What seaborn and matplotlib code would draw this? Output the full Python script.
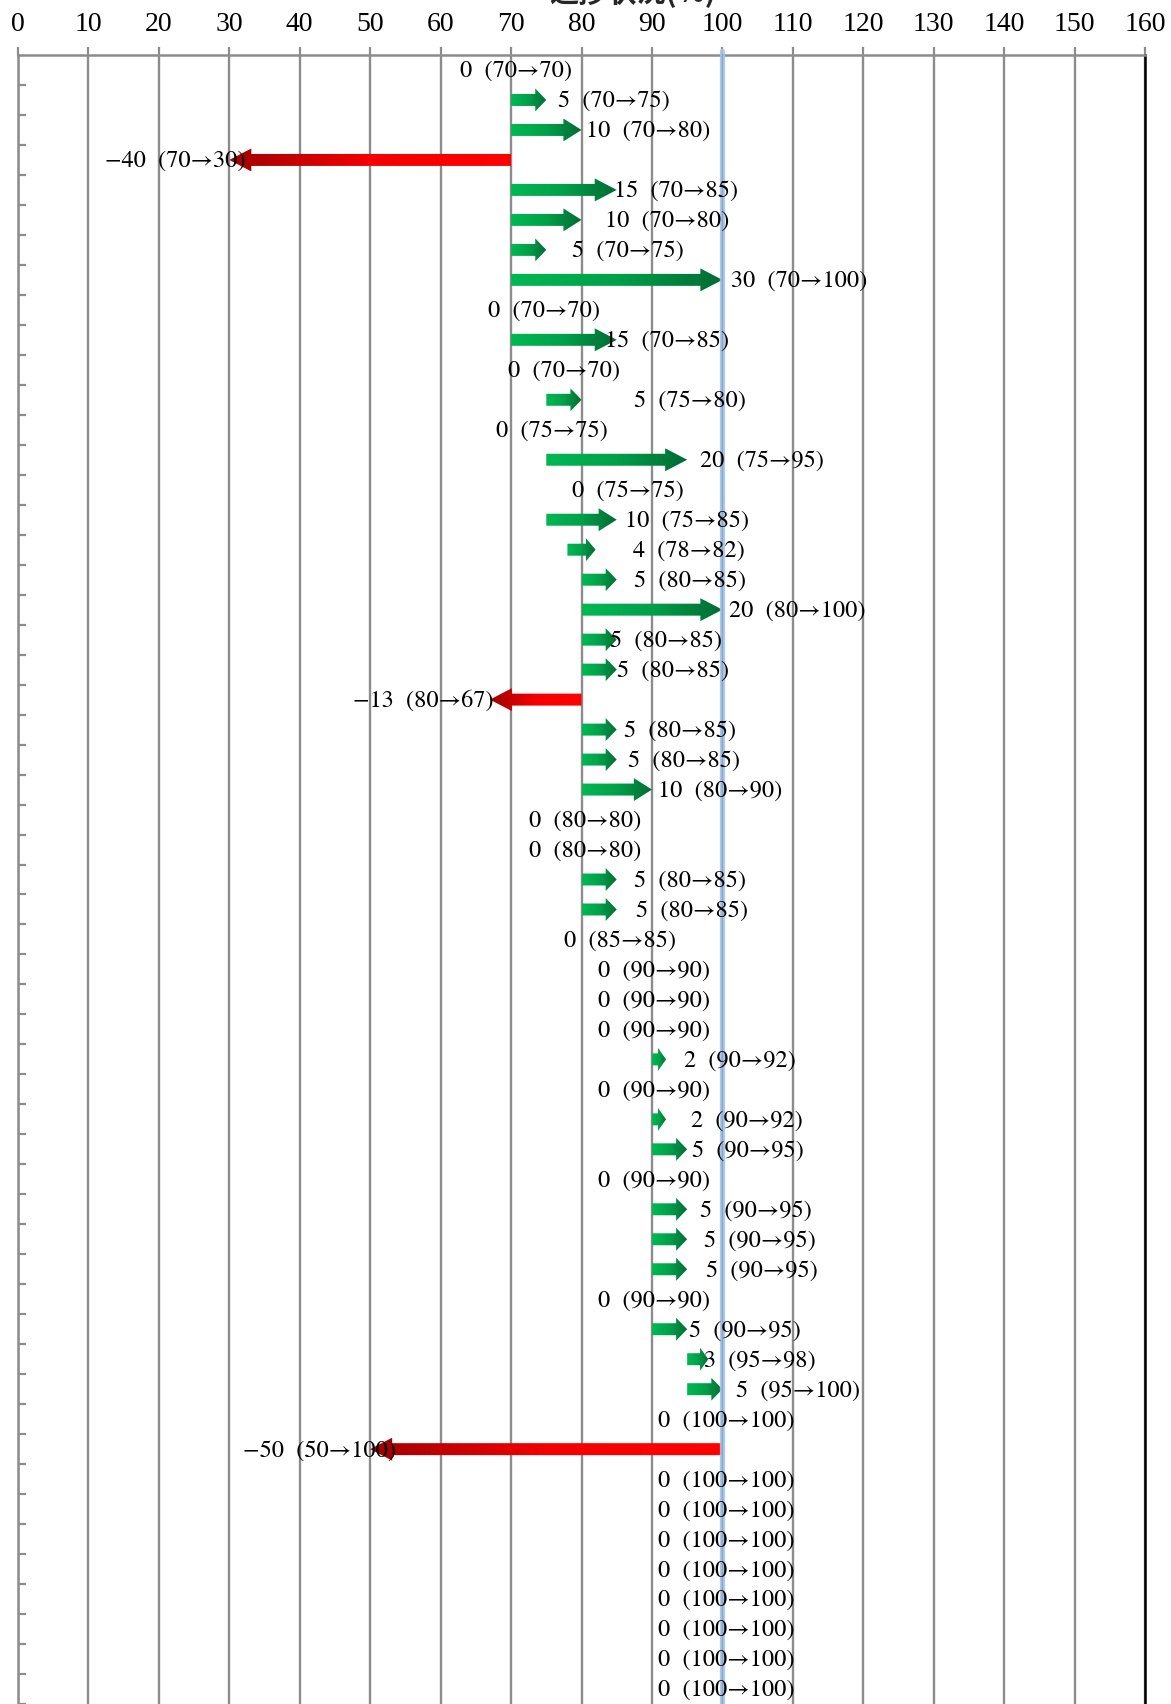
import numpy as np
import matplotlib
matplotlib.use("Agg")
import matplotlib.pyplot as plt
from matplotlib.patches import Polygon
import seaborn as sns

# ==========================================
# dados (antes -> depois, em %)
# ==========================================
before = [70, 70, 70, 70, 70, 70, 70, 70, 70, 70, 70,
          75, 75, 75, 75, 75, 78,
          80, 80, 80, 80, 80, 80, 80, 80, 80, 80, 80, 80,
          85,
          90, 90, 90, 90, 90, 90, 90, 90, 90, 90, 90, 90, 90,
          95, 95,
          100, 100, 100, 100, 100, 100, 100, 100, 100, 100]
after = [70, 75, 80, 30, 85, 80, 75, 100, 70, 85, 70,
         80, 75, 95, 75, 85, 82,
         85, 100, 85, 85, 67, 85, 85, 90, 80, 80, 85, 85,
         85,
         90, 90, 90, 92, 90, 92, 95, 90, 95, 95, 95, 90, 95,
         98, 100,
         100, 50, 100, 100, 100, 100, 100, 100, 100, 100]

# posição (esquerda) de cada rótulo, como no original
label_x = [62.7, 76.6, 80.7, 12.4, 84.6, 83.3, 78.6, 101.2, 66.7, 83.3, 69.5,
           87.4, 67.9, 96.8, 78.7, 86.2, 87.3,
           87.5, 100.9, 84.1, 85.0, 47.6, 86.0, 86.6, 90.9, 72.5, 72.5, 87.5, 87.8,
           77.5,
           82.4, 82.4, 82.4, 94.6, 82.4, 95.5, 95.7, 82.4, 96.8, 97.4, 97.7, 82.4, 95.2,
           97.4, 101.9,
           90.9, 31.9, 90.9, 90.9, 90.9, 90.9, 90.9, 90.9, 90.9, 90.9]

xticks = list(range(0, 161, 10))
title = "進捗状況(%)"


def fmt(v):
    return str(v).replace("-", "\u2212")


labels = [f"{fmt(a - b)}  ({b}\u2192{a})" for b, a in zip(before, after)]
labels[46] = "\u221250  (50\u2192100)"  # rótulo do original

# ==========================================
# figura
# ==========================================
sns.set_theme(style="white")
plt.rcParams['font.family'] = ['Liberation Serif', 'DejaVu Serif']

W, H = 1171, 1704
fig = plt.figure(figsize=(W / 100, H / 100), dpi=100)
x0_px, x1_px, top_px = 18, 1145, 55
ax = fig.add_axes([x0_px / W, 0, (x1_px - x0_px) / W, 1 - top_px / H])

px_x = (x1_px - x0_px) / 160.0   # px por unidade
px_y = 30.06                     # px por linha
n = len(before)
y_bottom = 0.5 + (H - top_px) / px_y

green = sns.blend_palette(["#00B853", "#00A049", "#006B34"], as_cmap=True)
red = sns.blend_palette(["#FF0000", "#F40000", "#A00000"], as_cmap=True)
grad = np.linspace(0, 1, 256).reshape(1, -1)

sh = 6.0 / px_y
hh = 11.5 / px_y
for i, (b, a) in enumerate(zip(before, after)):
    y = i + 1
    if a != b:
        sign = 1 if a > b else -1
        L = abs(a - b) * px_x
        hl = np.clip(0.2 * L + 4, 8, 22) / px_x
        neck = a - sign * hl
        verts = [(b, y - sh), (neck, y - sh), (neck, y - hh), (a, y),
                 (neck, y + hh), (neck, y + sh), (b, y + sh)]
        poly = Polygon(verts, closed=True, facecolor='none', edgecolor='none',
                       transform=ax.transData)
        ax.add_patch(poly)
        im = ax.imshow(grad, extent=(b, a, y + hh, y - hh), aspect='auto',
                       cmap=green if sign > 0 else red, interpolation='bilinear',
                       zorder=3)
        im.set_clip_path(poly)
    ax.text(label_x[i], y + 0.05, labels[i], ha='left', va='center', fontsize=17.5,
            color='black', zorder=6, family=['STIXGeneral', 'Liberation Serif'])

# linha de 100%
ax.plot([100, 100], [0.35, y_bottom + 1], color='#A8C6E6', lw=3.8,
        solid_capstyle='round', alpha=0.9, zorder=5, clip_on=False)
ax.plot([100, 100], [0.45, y_bottom + 1], color='#7FA3CC', lw=1.0,
        alpha=0.8, zorder=5, clip_on=False)

# eixos
ax.set_xlim(0, 160)
ax.set_ylim(y_bottom, 0.5)
ax.set_xticks(xticks)
ax.set_yticks(np.arange(1.5, n + 1, 1))
ax.set_yticklabels([])
ax.xaxis.tick_top()
ax.tick_params(axis='x', top=True, bottom=False, direction='out', length=6,
               width=1.6, color='#8C8C8C', pad=7, labelsize=20, labelcolor='black')
ax.tick_params(axis='y', left=True, direction='in', length=6, width=1.6,
               color='#8C8C8C')
ax.grid(axis='x', color='#8C8C8C', lw=1.7, zorder=1)
ax.grid(axis='y', visible=False)
ax.set_axisbelow(True)
for side in ['top', 'left']:
    ax.spines[side].set_color('#8C8C8C')
    ax.spines[side].set_linewidth(1.8)
ax.spines['right'].set_color('black')
ax.spines['right'].set_linewidth(1.8)
ax.spines['bottom'].set_visible(False)

fig.text(633 / W, 1 - 2 / H, title, ha='center', va='baseline', fontsize=21,
         fontweight='bold', family=['Noto Sans CJK JP', 'DejaVu Sans'])

fig.savefig('out.png', dpi=100)
